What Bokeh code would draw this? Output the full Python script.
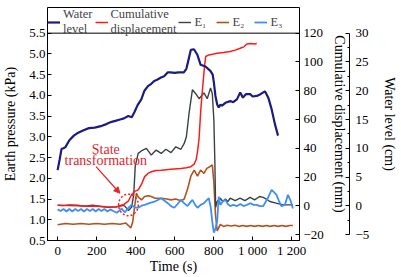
import math
from bokeh.plotting import figure
from bokeh.models import (Range1d, LinearAxis, FixedTicker, Legend, LegendItem,
                          Arrow, NormalHead, Label, NumeralTickFormatter, Span)
from bokeh.embed import file_html
from bokeh.resources import INLINE

# ---------------- data ----------------
water_t = [0, 10, 20, 30, 40, 60, 83, 100, 130, 160, 190, 227, 250, 277, 300, 320, 340, 362,
           380, 394, 410, 429, 445, 463, 480, 495, 510, 530, 546, 565, 580, 600, 620, 647, 660,
           669, 683, 699, 717, 733, 758, 784, 795, 801, 809, 818, 826, 835, 843, 860, 885, 900,
           919, 936, 950, 965, 987, 1000, 1021, 1040, 1063, 1080, 1097, 1114, 1130]
water_cm = [6.2, 8.0, 9.9, 10.0, 10.2, 11.4, 12.2, 12.6, 13.1, 13.5, 13.6, 13.9, 14.2, 14.6, 14.8,
            15.0, 15.2, 15.6, 15.4, 16.3, 17.5, 18.5, 20.0, 20.8, 21.2, 21.7, 21.9, 22.3, 22.5,
            23.2, 23.2, 23.1, 23.2, 23.2, 23.8, 25.1, 27.1, 27.2, 26.2, 24.5, 24.2, 23.4, 22.8,
            21.4, 19.1, 17.6, 17.1, 17.6, 17.4, 17.9, 18.2, 18.0, 18.5, 19.7, 18.8, 19.4, 19.4,
            19.0, 19.1, 19.4, 19.9, 18.8, 16.8, 14.2, 12.2]

disp_t = [0, 50, 100, 150, 200, 250, 300, 330, 345, 362, 379, 395, 413, 430, 446, 463, 480, 505,
          531, 580, 632, 660, 683, 700, 710, 717, 725, 733, 740, 747, 753, 759, 775, 800, 818,
          850, 885, 910, 936, 955, 970, 990, 1010, 1021]
disp_mm = [0.4, 0.3, 0.0, -0.3, -0.2, -0.6, -0.8, 0.0, 1.5, 3.2, 7.7, 10.0, 11.1, 15.0, 20.3,
           22.5, 23.7, 24.5, 24.8, 25.4, 26.0, 26.5, 27.2, 29.0, 32.0, 37.5, 46.6, 64.9, 77.0,
           87.8, 97.0, 103.8, 104.9, 105.5, 106.1, 106.5, 107.2, 108.2, 109.5, 110.5, 112.5,
           112.8, 112.5, 112.8]

e1_t = [0, 30, 60, 100, 140, 180, 220, 260, 300, 330, 345, 363, 379, 390, 398, 413, 429, 455,
        480, 505, 531, 555, 581, 606, 632, 649, 660, 674, 691, 708, 725, 750, 767, 784, 793,
        801, 806, 810, 818, 834, 847, 860, 872, 885, 910, 935, 960, 987, 1010, 1035, 1054,
        1070, 1088, 1120, 1156, 1180, 1206]
e1_kpa = [1.35, 1.34, 1.36, 1.35, 1.33, 1.35, 1.32, 1.30, 1.31, 1.36, 1.33, 1.22, 1.30, 1.60,
          2.30, 2.60, 2.66, 2.72, 2.56, 2.68, 2.60, 2.70, 2.62, 2.76, 2.70, 2.84, 3.00, 3.58,
          4.14, 4.04, 3.92, 4.06, 3.92, 4.18, 4.04, 3.40, 2.40, 1.30, 1.44, 1.52, 1.44, 1.50,
          1.44, 1.52, 1.46, 1.52, 1.46, 1.54, 1.48, 1.56, 1.54, 1.50, 1.44, 1.40, 1.36, 1.36,
          1.36]

e2_t = [0, 40, 80, 120, 160, 200, 240, 280, 320, 350, 363, 375, 385, 394, 404, 413, 430, 446,
        465, 480, 500, 531, 560, 581, 605, 632, 649, 666, 683, 700, 717, 733, 750, 765, 780,
        793, 801, 809, 818, 834, 850, 870, 890, 910, 930, 950, 970, 990, 1010, 1030, 1050,
        1070, 1090, 1110, 1130, 1150, 1170, 1190, 1206]
e2_kpa = [0.88, 0.91, 0.89, 0.91, 0.89, 0.91, 0.89, 0.91, 0.89, 0.92, 0.86, 0.80, 0.95, 1.30,
          1.64, 1.55, 1.48, 1.56, 1.58, 1.56, 1.52, 1.52, 1.50, 1.48, 1.50, 1.46, 1.50, 1.74,
          2.05, 2.20, 2.05, 2.20, 2.12, 2.24, 2.28, 2.32, 1.90, 1.14, 0.73, 0.89, 0.84, 0.87,
          0.85, 0.87, 0.84, 0.86, 0.84, 0.86, 0.84, 0.86, 0.84, 0.86, 0.84, 0.86, 0.84, 0.86,
          0.84, 0.86, 0.86]

e3_t = [0, 15, 30, 45, 60, 75, 90, 105, 120, 135, 150, 165, 180, 195, 210, 225, 240, 255, 270,
        285, 303, 328, 345, 365, 379, 395, 413, 430, 446, 470, 497, 515, 531, 548, 565, 581,
        598, 615, 632, 648, 666, 680, 691, 705, 717, 733, 750, 762, 775, 785, 793, 801, 810,
        818, 826, 834, 847, 860, 872, 885, 900, 920, 937, 953, 970, 987, 1005, 1020, 1037,
        1054, 1075, 1097, 1110, 1122, 1135, 1147, 1165, 1181, 1195, 1206]
e3_kpa = [1.25, 1.21, 1.26, 1.20, 1.26, 1.20, 1.26, 1.21, 1.26, 1.20, 1.26, 1.21, 1.26, 1.20,
          1.26, 1.21, 1.26, 1.20, 1.25, 1.21, 1.17, 1.27, 1.18, 1.30, 1.36, 1.30, 1.29, 1.34,
          1.36, 1.40, 1.44, 1.48, 1.52, 1.46, 1.40, 1.33, 1.29, 1.38, 1.48, 1.40, 1.33, 1.42,
          1.48, 1.36, 1.29, 1.36, 1.40, 1.46, 1.52, 1.30, 0.95, 0.69, 0.80, 0.97, 1.56, 1.36,
          1.44, 1.48, 1.38, 1.33, 1.36, 1.33, 1.38, 1.33, 1.36, 1.40, 1.36, 1.36, 1.33, 1.33,
          1.50, 1.72, 1.66, 1.60, 1.45, 1.33, 1.36, 1.60, 1.45, 1.27]

x_ticks = [0, 200, 400, 600, 800, 1000, 1200]
x_tick_labels = {1000: "1 000", 1200: "1 200"}
left_ticks = [0.5, 1.0, 1.5, 2.0, 2.5, 3.0, 3.5, 4.0, 4.5, 5.0, 5.5]
disp_ticks = [-20, 0, 20, 40, 60, 80, 100, 120]
water_ticks = [-5, 0, 5, 10, 15, 20, 25, 30]
water_minor = [-2.5, 2.5, 7.5, 12.5, 17.5, 22.5, 27.5]

ann_state = ("State", 247, 2.70)
ann_trans = ("transformation", 247, 2.44)
arrow_pts = (197, 2.28, 319, 1.64)
circle_pt = (363, 1.357, 101, 0.52)

# ---------------- layout / styles ----------------
FONT = "Liberation Serif"
C_WATER = "#1c1c80"
C_DISP = "#ff1a1a"
C_E1 = "#3a4246"
C_E2 = "#b4521e"
C_E3 = "#3f8ef5"
C_ANN = "#e0262e"

W, H = 400, 276
TOP, BOTTOM = 7, 33
FRAME_H = H - TOP - BOTTOM
LEG_H = 26                       # legend band inside the frame, above the data area
EXT = LEG_H / (FRAME_H - LEG_H)  # fraction of each range added on top for the band

y0, y1 = 0.5, 5.5
d0, d1 = -24.1, 120.0
w0, w1 = -6.02, 30.0

p = figure(width=W, height=H, output_backend="svg", toolbar_location=None,
           x_range=Range1d(-52, 1240), y_range=Range1d(y0, y1 + (y1 - y0) * EXT),
           min_border_left=45, min_border_right=100, min_border_top=TOP,
           min_border_bottom=BOTTOM)
p.extra_y_ranges = {"disp": Range1d(d0, d1 + (d1 - d0) * EXT),
                    "water": Range1d(w0, w1 + (w1 - w0) * EXT)}
p.xgrid.visible = False
p.ygrid.visible = False
p.outline_line_color = "black"
p.outline_line_width = 1
p.background_fill_color = "white"
p.border_fill_color = "white"


def style(ax, label_standoff, major_standoff, tick_size="13px", label_size="14px"):
    ax.major_label_text_font = FONT
    ax.major_label_text_font_size = tick_size
    ax.major_label_text_color = "black"
    ax.axis_label_text_font = FONT
    ax.axis_label_text_font_size = label_size
    ax.axis_label_text_font_style = "normal"
    ax.axis_label_text_color = "black"
    ax.axis_line_color = "black"
    ax.major_tick_line_color = "black"
    ax.major_tick_in = 4
    ax.major_tick_out = 0
    ax.minor_tick_line_color = None
    ax.axis_label_standoff = label_standoff
    ax.major_label_standoff = major_standoff


xa = p.xaxis[0]
xa.ticker = FixedTicker(ticks=x_ticks)
xa.major_label_overrides = x_tick_labels
xa.axis_label = "Time (s)"
style(xa, -2, 2, "13px", "14px")

ya = p.yaxis[0]
ya.ticker = FixedTicker(ticks=left_ticks)
ya.formatter = NumeralTickFormatter(format="0.0")
ya.axis_label = "Earth pressure (kPa)"
ya.bounds = (y0, y1)
style(ya, 8, 2)

da = LinearAxis(y_range_name="disp", axis_label="Cumulative displacement (mm)",
                ticker=FixedTicker(ticks=disp_ticks), bounds=(d0, d1))
style(da, 5, 4)
wa = LinearAxis(y_range_name="water", axis_label="Water level (cm)",
                ticker=FixedTicker(ticks=water_ticks, minor_ticks=water_minor),
                bounds=(-5, 30))
style(wa, 10, 6)
wa.minor_tick_line_color = "black"
wa.minor_tick_in = 2
wa.minor_tick_out = 0
p.add_layout(da, "right")
p.add_layout(wa, "right")

# line separating the legend band from the data area
p.add_layout(Span(location=y1, dimension="width", line_color="black", line_width=1))

r_e2 = p.line(e2_t, e2_kpa, line_color=C_E2, line_width=1.6)
r_e1 = p.line(e1_t, e1_kpa, line_color=C_E1, line_width=1.4)
r_e3 = p.line(e3_t, e3_kpa, line_color=C_E3, line_width=1.8)
r_d = p.line(disp_t, disp_mm, line_color=C_DISP, line_width=1.5, y_range_name="disp")
r_w = p.line(water_t, water_cm, line_color=C_WATER, line_width=2.2, y_range_name="water")

p.ellipse(x=[circle_pt[0]], y=[circle_pt[1]], width=circle_pt[2], height=circle_pt[3],
          fill_color=None, line_color=C_ANN, line_width=1.5, line_dash="2 2")
p.add_layout(Arrow(end=NormalHead(size=6, fill_color=C_ANN, line_color=C_ANN),
                   x_start=arrow_pts[0], y_start=arrow_pts[1],
                   x_end=arrow_pts[2], y_end=arrow_pts[3],
                   line_color=C_ANN, line_width=1.3))
for txt, tx, ty in (ann_state, ann_trans):
    p.add_layout(Label(x=tx, y=ty, text=txt, text_font=FONT, text_font_size="14px",
                       text_color=C_ANN, text_align="center", text_baseline="middle"))

legend = Legend(items=[
    LegendItem(label="Water\nlevel", renderers=[r_w]),
    LegendItem(label="Cumulative\ndisplacement", renderers=[r_d]),
    LegendItem(label="E₁", renderers=[r_e1]),
    LegendItem(label="E₂", renderers=[r_e2]),
    LegendItem(label="E₃", renderers=[r_e3]),
], orientation="horizontal", location="top_left")
legend.margin = 0
legend.padding = 2
legend.spacing = 2
legend.glyph_width = 13
legend.glyph_height = 12
legend.label_height = 12
legend.label_standoff = 3
legend.label_text_font = FONT
legend.label_text_font_size = "12.5px"
legend.label_text_line_height = 0.88
legend.border_line_color = None
legend.background_fill_alpha = 0
p.add_layout(legend)

open("out.html", "w").write(file_html(p, INLINE))
